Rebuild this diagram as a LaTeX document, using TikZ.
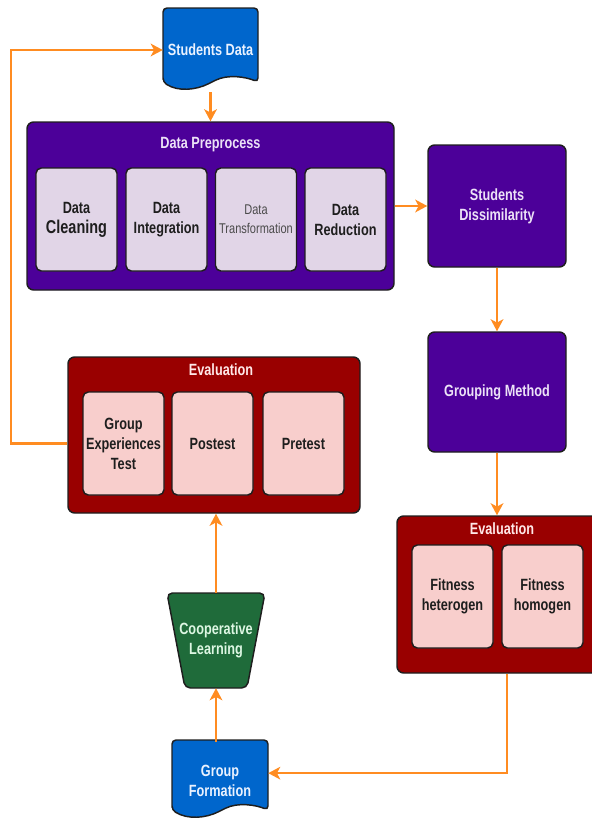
\documentclass[tikz,border=0pt]{standalone}
\usepackage{fontspec}
\setmainfont{Liberation Sans}[FakeStretch=0.78]
\usetikzlibrary{arrows.meta,calc}
\definecolor{purp}{HTML}{4C0099}
\definecolor{lav}{HTML}{E1D5E7}
\definecolor{dred}{HTML}{990000}
\definecolor{pink}{HTML}{F8CECC}
\definecolor{dblue}{HTML}{0066CC}
\definecolor{dgreen}{HTML}{1F6B3A}
\definecolor{orng}{HTML}{FF8C21}
\definecolor{ink}{HTML}{1E1E1E}
\definecolor{lavtxt}{HTML}{ECE2F7}
\definecolor{redtxt}{HTML}{FFE8E8}
\definecolor{bluetxt}{HTML}{EAF2FF}
\definecolor{greentxt}{HTML}{DDF7E3}
\tikzset{
  outline/.style={draw=ink, line width=1.1pt},
  container/.style={outline, rounded corners=5pt, inner sep=0pt},
  purpbox/.style={container, fill=purp},
  redbox/.style={container, fill=dred},
  innerbox/.style={outline, rounded corners=4pt, inner sep=0pt, align=center,
    minimum width=81*0.75pt, minimum height=103*0.75pt, text=ink,
    font=\fontsize{12.2}{15}\selectfont\bfseries},
  lavbox/.style={innerbox, fill=lav},
  pinkbox/.style={innerbox, fill=pink},
  titletxt/.style={inner sep=0pt, font=\fontsize{12.2}{15}\selectfont\bfseries},
  bigtxt/.style={inner sep=0pt, align=center, font=\fontsize{12.2}{15}\selectfont\bfseries},
  docshape/.style={outline, fill=dblue, rounded corners=3pt},
  arr/.style={draw=orng, line width=1.7pt, -{Stealth[length=9pt,width=9.5pt,inset=2.5pt]}},
}
\begin{document}
\begin{tikzpicture}[x=0.75pt,y=-0.75pt]
\useasboundingbox (0,0) rectangle (592,821);
\begin{scope}
\clip (0,0) rectangle (592,821);

% Students Data document
\draw[docshape] (163,82) -- (163,8) -- (258,8) -- (258,82)
  .. controls (246,77) and (228,74) .. (212,82)
  .. controls (196,90) and (178,92) .. (163,82) -- cycle;
\node[bigtxt, text=bluetxt, minimum width=95*0.75pt, minimum height=84*0.75pt] (sd) at (210.5,50) {Students Data};

% Data Preprocess container
\node[purpbox, minimum width=367*0.75pt, minimum height=168*0.75pt] (dp) at (210.5,206) {};
\node[titletxt, text=lavtxt] (dpt) at (210.5,145) {Data Preprocess};
\node[lavbox] (clean) at (76.5,219.5) {Data\\{\fontsize{13.9}{15}\selectfont Cleaning}};
\node[lavbox] (integ) at (166.5,219.5) {Data\\Integration};
\node[lavbox, font=\fontsize{10.6}{15}\selectfont, text=ink!80] (trans) at (256,219.5) {Data\\[-1pt]Transformation};
\node[lavbox] (reduc) at (345.5,219.5) {Data\\Reduction};

% Students Dissimilarity
\node[purpbox, bigtxt, text=lavtxt, minimum width=138*0.75pt, minimum height=122*0.75pt] (dis) at (497,206) {Students\\Dissimilarity};

% Grouping Method
\node[purpbox, bigtxt, text=lavtxt, minimum width=138*0.75pt, minimum height=120*0.75pt] (grp) at (497,392) {Grouping Method};

% Evaluation (right)
\node[redbox, minimum width=220*0.75pt, minimum height=157*0.75pt] (ev2) at (507,594.5) {};
\node[titletxt, text=redtxt] (ev2t) at (502,529) {Evaluation};
\node[pinkbox] (fhet) at (452.5,596.5) {Fitness\\heterogen};
\node[pinkbox] (fhom) at (542.5,596.5) {Fitness\\homogen};

% Evaluation (left)
\node[redbox, minimum width=292*0.75pt, minimum height=156*0.75pt] (ev1) at (214,435) {};
\node[titletxt, text=redtxt] (ev1t) at (221,370) {Evaluation};
\node[pinkbox] (gexp) at (123.5,443.5) {Group\\Experiences\\Test};
\node[pinkbox] (post) at (212.5,443.5) {Postest};
\node[pinkbox] (pre) at (303.5,443.5) {Pretest};

% Cooperative Learning
\draw[outline, fill=dgreen, rounded corners=4pt] (167,593) -- (265,593) -- (247,688) -- (185,688) -- cycle;
\node[bigtxt, text=greentxt, minimum width=98*0.75pt, minimum height=95*0.75pt] (coop) at (216,640.5) {Cooperative\\Learning};

% Group Formation document
\draw[docshape] (172,810) -- (172,740) -- (268,740) -- (268,810)
  .. controls (256,805) and (238,802) .. (222,810)
  .. controls (206,818) and (188,820) .. (172,810) -- cycle;
\node[bigtxt, text=bluetxt, minimum width=96*0.75pt, minimum height=78*0.75pt] (gf) at (220,781) {Group\\Formation};

% connectors
\coordinate (lft) at (11,0);
\draw[arr] (sd.south) -- (dp.north);
\draw[arr] (dp.east) -- (dis.west);
\draw[arr] (dis.south) -- (grp.north);
\draw[arr] (grp.south) -- (grp.south |- ev2.north);
\draw[arr] (ev2.south) |- ($(gf.north east)!0.4!(gf.south east)$);
\draw[arr] (coop.south |- gf.north) -- (coop.south);
\draw[arr] (coop.north) -- (coop.north |- ev1.south);
\draw[arr] (ev1.west |- gexp) -- (lft |- gexp) |- (sd.west);
\end{scope}
\end{tikzpicture}
\end{document}
